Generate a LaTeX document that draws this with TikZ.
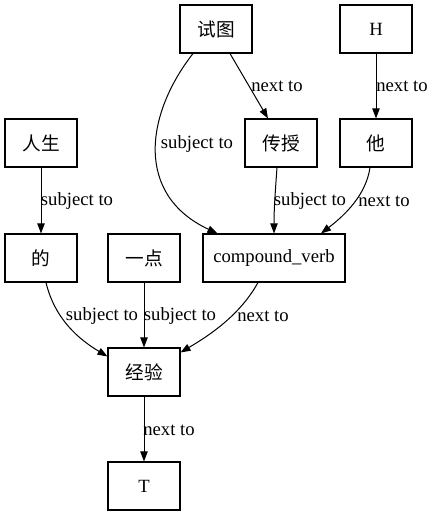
\documentclass[tikz,border=0pt]{standalone}
\usepackage{fontspec}
\setmainfont{Liberation Serif}
\newfontfamily\cjk{Noto Sans CJK SC}
\usetikzlibrary{arrows.meta,positioning}

\begin{document}
\begin{tikzpicture}[x=0.75pt,y=-0.75pt,
    every node/.style={font=\fontsize{14pt}{17pt}\selectfont},
    word/.style={draw,line width=0.8pt,minimum width=54pt,minimum height=36pt,inner sep=2pt},
    lbl/.style={inner sep=1pt},
    edge/.style={line width=0.75pt,-{Triangle[length=7.5pt,width=5.5pt]}}]

    \useasboundingbox (0,0) rectangle (434,517);

    % rank 1
    \node[word] (SHITU) at (216,29) {\cjk 试图};
    \node[word] (H) at (376,29) {H};
    % rank 2
    \node[word] (RENSHENG) at (41,143) {\cjk 人生};
    \node[word] (CHUANSHOU) at (281,143) {\cjk 传授};
    \node[word] (TA) at (376,143) {\cjk 他};
    % rank 3
    \node[word] (DE) at (41,258) {\cjk 的};
    \node[word] (YIDIAN) at (144,258) {\cjk 一点};
    \node[word,minimum width=106.5pt] (VERB) at (274,258) {compound\_verb};
    % rank 4 and 5
    \node[word] (JINGYAN) at (144,372) {\cjk 经验};
    \node[word] (T) at (144,486) {T};

    \draw[edge] ([xshift=-17.25pt]SHITU.south) .. controls (145,115) and (135,195) .. ([xshift=11.25pt]VERB.north west);
    \draw[edge] ([xshift=10.5pt]SHITU.south) -- ([xshift=-9.75pt]CHUANSHOU.north);
    \draw[edge] (H) -- (TA);
    \draw[edge] (RENSHENG) -- (DE);
    \draw[edge] ([xshift=-3pt]CHUANSHOU.south) .. controls (275,195) and (274,210) .. (VERB.north);
    \draw[edge] ([xshift=-4.5pt]TA.south) .. controls (366,195) and (345,215) .. ([xshift=35.25pt]VERB.north);
    \draw[edge] ([xshift=3.75pt]DE.south) .. controls (55,320) and (80,340) .. ([yshift=-6.75pt]JINGYAN.north west);
    \draw[edge] (YIDIAN) -- (JINGYAN);
    \draw[edge] ([xshift=-12pt]VERB.south) .. controls (240,315) and (210,335) .. ([yshift=-3.75pt]JINGYAN.north east);
    \draw[edge] (JINGYAN) -- (T);

    \node[lbl] (L1) at (197,144) {subject to};
    \node[lbl] (L2) at (277,86) {next to};
    \node[lbl] (L3) at (402,86) {next to};
    \node[lbl] (L4) at (77,201) {subject to};
    \node[lbl] (L5) at (310,201) {subject to};
    \node[lbl] (L6) at (384,201) {next to};
    \node[lbl] (L7) at (102,316) {subject to};
    \node[lbl] (L8) at (180,316) {subject to};
    \node[lbl] (L9) at (263,316) {next to};
    \node[lbl] (L10) at (169,430) {next to};

  \end{tikzpicture}
\end{document}
